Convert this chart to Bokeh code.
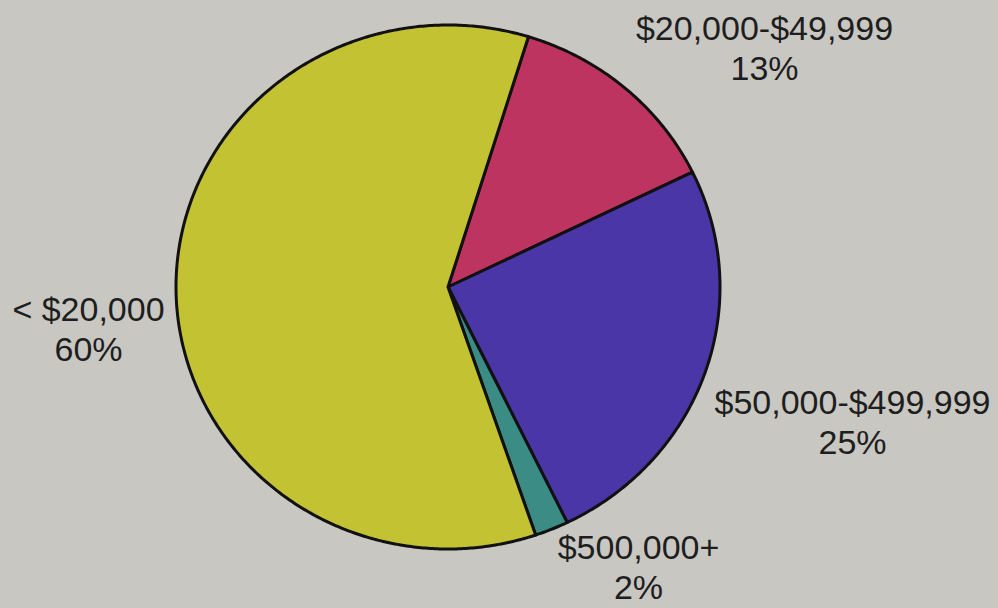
from bokeh.plotting import figure
from bokeh.models import Range1d, ColumnDataSource
from bokeh.core.properties import value
from bokeh.embed import file_html
from bokeh.resources import INLINE
import numpy as np

# ---- data (clockwise from the top) ----
categories = ["$20,000-$49,999", "$50,000-$499,999", "$500,000+", "< $20,000"]
percents = [13, 25, 2, 60]
colors = ["#be3460", "#4a36a6", "#3b8c84", "#c3c232"]

# ---- layout constants ----
W, H = 998, 608
BG = "#c8c7c2"
CX, CY = 447.5, 321.5        # pie centre (data units = pixels, y up)
RX, RY = 272, 262            # the printed pie is slightly elliptical
START_DEG = 72.8
label_pos = {
    "$20,000-$49,999": (764, 581),
    "$50,000-$499,999": (852, 207),
    "$500,000+": (638, 62),
    "< $20,000": (88, 300),
}
LINE_GAP = 40

vals = np.array(percents, dtype=float)
frac = vals / vals.sum()
cum = np.concatenate([[0], np.cumsum(frac)])
hi = START_DEG - cum[:-1] * 360
lo = START_DEG - cum[1:] * 360

xs, ys = [], []
for a0, a1 in zip(lo, hi):
    t = np.radians(np.linspace(a0, a1, max(8, int(abs(a1 - a0) * 2))))
    xs.append(np.concatenate([[CX], CX + RX * np.cos(t)]).tolist())
    ys.append(np.concatenate([[CY], CY + RY * np.sin(t)]).tolist())

src = ColumnDataSource(dict(xs=xs, ys=ys, cat=categories, color=colors))

p = figure(width=W, height=H, output_backend="svg", toolbar_location=None,
           x_range=Range1d(0, W), y_range=Range1d(0, H), min_border=0)
p.axis.visible = False
p.grid.visible = False
p.outline_line_color = None
p.background_fill_color = BG
p.border_fill_color = BG

p.patches(xs="xs", ys="ys", fill_color="color", line_color="#111111",
          line_width=3, line_join="round", source=src)

lx = [label_pos[c][0] for c in categories]
ly = [label_pos[c][1] for c in categories]
names_src = ColumnDataSource(dict(x=lx, y=ly, t=categories))
pct_src = ColumnDataSource(dict(x=lx, y=[v - LINE_GAP for v in ly],
                                t=[f"{v}%" for v in percents]))
for s in (names_src, pct_src):
    p.text(x="x", y="y", text="t", source=s, text_align="center",
           text_baseline="middle", text_font=value("Liberation Sans"),
           text_font_size="34px", text_color="#1e1e1e")

html = file_html(p, INLINE)
html = html.replace("<head>", "<head><style>body{background:%s;}</style>" % BG, 1)
open("out.html", "w").write(html)
